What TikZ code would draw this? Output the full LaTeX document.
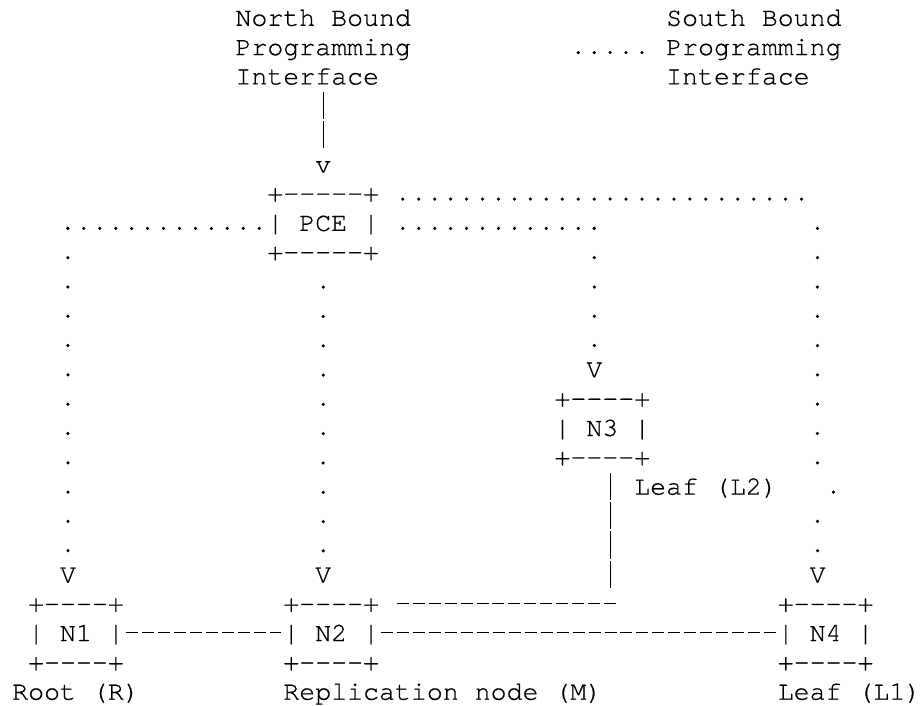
\documentclass[tikz,border=0pt]{standalone}
\usepackage{fontspec}
\setmonofont{TeX Gyre Cursor}[FakeBold=0.6]
\tikzset{
  every node/.style={font=\ttfamily\fontsize{26.58pt}{29.3pt}\selectfont},
  txt/.style={inner sep=0pt, anchor=base west, text height=22pt, text depth=5.3pt},
  dotpt/.style={yshift=2.5pt},
  dotrow/.style={line width=3.5pt, line cap=round, dash pattern=on 0pt off 15.95pt},
  dotcol/.style={line width=3.5pt, line cap=round, dash pattern=on 0pt off 29.3pt},
  hyph/.style={line width=1.3pt, dash pattern=on 12pt off 3.95pt, shorten <=2pt, shorten >=2pt},
  vbar/.style={line width=1.2pt, dash pattern=on 27.3pt off 2pt},
}

\begin{document}
\begin{tikzpicture}[x=15.95pt, y=-29.3pt]
  \useasboundingbox (0,0) rectangle (922pt,-706pt);
  \begin{scope}[shift={(12pt,-25.8pt)}]
  % interfaces
  \node[txt] (nb1) at (14,0) {North Bound};
  \node[txt] (nb2) at (14,1) {Programming};
  \node[txt] (nb3) at (14,2) {Interface};
  \node[txt] (sb1) at (41,0) {South Bound};
  \node[txt] (sb2) at (41,1) {Programming};
  \node[txt] (sb3) at (41,2) {Interface};
  \node[txt] (nbv) at (19,5) {v};
  % PCE
  \node[txt] (pcetop) at (16,6) {+-----+};
  \node[txt] (pce)    at (16,7) {| PCE |};
  \node[txt] (pcebot) at (16,8) {+-----+};
  % N3, leaf L2
  \node[txt] (n3v)   at (36,12) {V};
  \node[txt] (n3top) at (34,13) {+----+};
  \node[txt] (n3)    at (34,14) {| N3 |};
  \node[txt] (n3bot) at (34,15) {+----+};
  \node[txt] (l2)    at (39,16) {Leaf (L2)};
  % bottom row
  \node[txt] (n1v)   at (3,19) {V};
  \node[txt] (n1top) at (1,20) {+----+};
  \node[txt] (n1)    at (1,21) {| N1 |};
  \node[txt] (n1bot) at (1,22) {+----+};
  \node[txt] (root)  at (0,23) {Root (R)};
  \node[txt] (n2v)   at (19,19) {V};
  \node[txt] (n2top) at (17,20) {+----+};
  \node[txt] (n2)    at (17,21) {| N2 |};
  \node[txt] (n2bot) at (17,22) {+----+};
  \node[txt] (repl)  at (17,23) {Replication node (M)};
  \node[txt] (n4v)   at (50,19) {V};
  \node[txt] (n4top) at (48,20) {+----+};
  \node[txt] (n4)    at (48,21) {| N4 |};
  \node[txt] (n4bot) at (48,22) {+----+};
  \node[txt] (l1)    at (48,23) {Leaf (L1)};
  % corners
  \coordinate[dotpt] (sblead) at (35.5,1);
  \coordinate[dotpt] (nwc) at (3.5,7);
  \coordinate[dotpt] (n3c) at (36.5,7);
  \coordinate[dotpt] (n4c) at (49.5,6);
  \coordinate[dotpt] (n4d) at (50.5,7);
  \coordinate[dotpt] (n4e) at (50.5,15.5);
  \coordinate[dotpt] (l2dot) at (51.5,16);
  \coordinate[dotpt] (n4f) at (50.5,17);
  \coordinate[yshift=-5.3pt] (l2bar) at (37.5,19);
  \coordinate (l2turn) at (38,20);
  % north bound to PCE
  \draw[vbar, shorten <=2pt, shorten >=2pt] (nb3.south -| nbv) -- (nbv.north);
  \draw[dotrow, shorten >=23pt] (sblead) -- (sblead -| sb2.west);
  % PCE to the nodes
  \draw[dotrow] (nwc) -- (nwc -| pce.west);
  \draw[dotcol] (nwc) -- (n1v.north);
  \draw[dotcol, shorten <=21.5pt] (pcebot.south -| n2v.north) -- (n2v.north);
  \draw[dotrow, shorten >=10pt] (n3c) -- (n3c -| pce.east);
  \draw[dotcol] (n3c) -- (n3v.north);
  \draw[dotrow, shorten >=10pt] (n4c) -- (n4c -| pcetop.east);
  \draw[dotcol] (n4d) -- (n4e);
  \fill (l2dot) circle (1.75pt);
  \draw[dotcol] (n4f) -- (n4v.north);
  % links
  \draw[hyph] (n1.east) -- (n2.west);
  \draw[hyph] (n2.east) -- (n4.west);
  \draw[vbar, shorten <=2pt] (n3bot.south -| l2bar) -- (l2bar);
  \draw[hyph, shorten >=18pt] (n2top.east -| l2turn) -- (n2top.east);
  \end{scope}
\end{tikzpicture}
\end{document}
